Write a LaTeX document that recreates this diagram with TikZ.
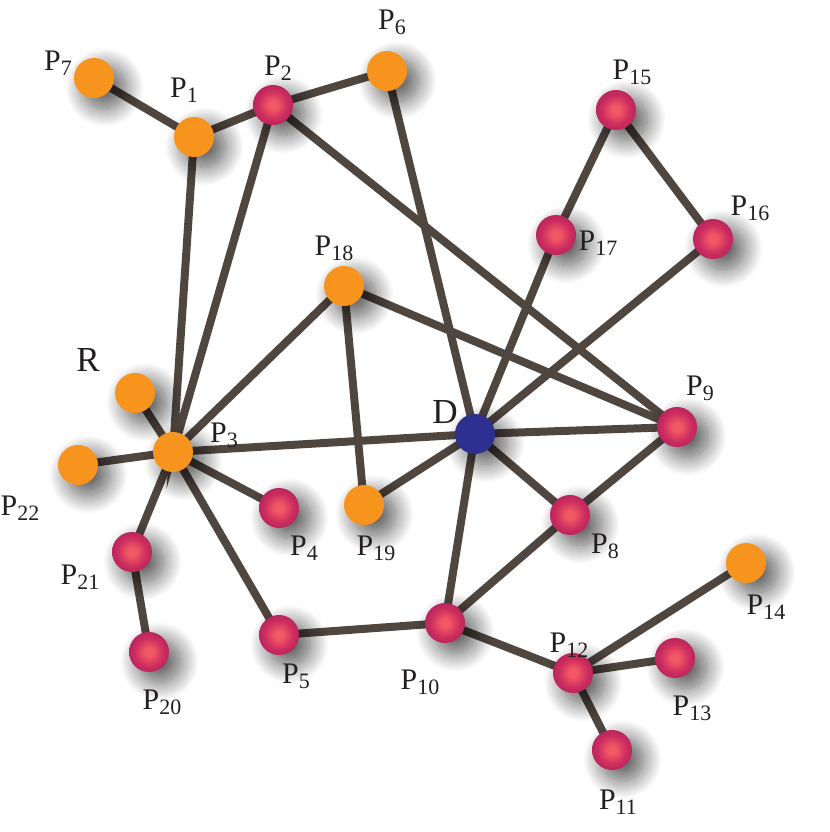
\documentclass[tikz,border=0pt]{standalone}
\usepackage{fontspec}
\setmainfont{Liberation Serif}
\usetikzlibrary{shadows.blur}

\definecolor{porange}{RGB}{247,148,30}
\definecolor{pblue}{RGB}{45,48,145}
\definecolor{ballhi}{RGB}{243,88,100}
\definecolor{ballmid}{RGB}{205,45,95}
\definecolor{ballrim}{RGB}{155,27,90}
\definecolor{balledge}{RGB}{130,20,85}
\definecolor{edgecol}{RGB}{80,70,64}
\definecolor{txtcol}{RGB}{35,31,32}

\pgfdeclareradialshading{pball}{\pgfpoint{0bp}{0bp}}{color(0bp)=(ballhi); color(5bp)=(ballhi); color(18bp)=(ballmid); color(36bp)=(ballrim); color(50bp)=(balledge); color(70bp)=(balledge)}
\pgfdeclarelayer{edges}
\pgfsetlayers{edges,main}

\newcommand{\plab}[1]{P\raisebox{-0.35ex}{\fontsize{12.5}{13}\selectfont #1}}

\begin{document}
\begin{tikzpicture}[x=0.02cm, y=-0.02cm,
  dot/.style={circle, inner sep=0pt, minimum size=0.8cm,
    blur shadow={shadow xshift=0.2cm, shadow yshift=-0.18cm, shadow blur radius=0.35cm,
      shadow blur steps=24, shadow opacity=65, shadow scale=1.05}},
  odot/.style={dot, fill=porange},
  mdot/.style={dot, shading=pball},
  bdot/.style={dot, fill=pblue},
  edge/.style={draw=edgecol, line width=0.16cm},
  lbl/.style={text=txtcol, inner sep=0pt, font=\fontsize{17}{20}\selectfont},
  big/.style={text=txtcol, inner sep=0pt, font=\fontsize{20}{24}\selectfont}]
  \useasboundingbox (0,0) rectangle (830,832);

  % top left group
  \node[odot] (P7) at (94,78) {};
  \node[odot] (P1) at (194,137) {};
  \node[mdot] (P2) at (273,105) {};
  \node[odot] (P6) at (387,71) {};
  \node[lbl] (l7) at (58,63) {\plab{7}};
  \node[lbl] (l1) at (184,90) {\plab{1}};
  \node[lbl] (l2) at (278,68) {\plab{2}};
  \node[lbl] (l6) at (392,22) {\plab{6}};

  % top right group
  \node[mdot] (P15) at (616,110) {};
  \node[mdot] (P16) at (713,239) {};
  \node[mdot] (P17) at (556,235) {};
  \node[lbl] (l15) at (632,72) {\plab{15}};
  \node[lbl] (l16) at (750,208) {\plab{16}};
  \node[lbl] (l17) at (598,243) {\plab{17}};

  % middle
  \node[odot] (P18) at (344,286) {};
  \node[odot] (R) at (135,393) {};
  \node[odot] (P3) at (173,452) {};
  \node[odot] (P22) at (78,465) {};
  \node[bdot] (D) at (475,434) {};
  \node[mdot] (P9) at (677,427) {};
  \node[mdot] (P4) at (279,508) {};
  \node[odot] (P19) at (364,505) {};
  \node[mdot] (P8) at (570,515) {};
  \node[lbl] (l18) at (334,248) {\plab{18}};
  \node[big] (lR) at (88,360) {R};
  \node[lbl] (l3) at (224,435) {\plab{3}};
  \node[lbl] (l22) at (20,508) {\plab{22}};
  \node[big] (lD) at (445,412) {D};
  \node[lbl] (l9) at (700,388) {\plab{9}};
  \node[lbl] (l4) at (304,548) {\plab{4}};
  \node[lbl] (l19) at (376,548) {\plab{19}};
  \node[lbl] (l8) at (605,546) {\plab{8}};

  % bottom
  \node[mdot] (P21) at (132,552) {};
  \node[mdot] (P20) at (149,652) {};
  \node[mdot] (P5) at (279,635) {};
  \node[mdot] (P10) at (445,623) {};
  \node[odot] (P14) at (746,563) {};
  \node[mdot] (P12) at (573,673) {};
  \node[mdot] (P13) at (675,658) {};
  \node[mdot] (P11) at (612,750) {};
  \node[lbl] (l21) at (80,577) {\plab{21}};
  \node[lbl] (l20) at (162,702) {\plab{20}};
  \node[lbl] (l5) at (296,676) {\plab{5}};
  \node[lbl] (l10) at (420,682) {\plab{10}};
  \node[lbl] (l14) at (766,607) {\plab{14}};
  \node[lbl] (l12) at (569,645) {\plab{12}};
  \node[lbl] (l13) at (692,708) {\plab{13}};
  \node[lbl] (l11) at (618,802) {\plab{11}};

  % links
  \begin{pgfonlayer}{edges}
    \draw[edge] (P7.center) -- (P1.center) -- (P2.center) -- (P6.center) -- (D.center);
    \draw[edge] (P1.center) -- (P3.center) -- (P2.center) -- (P9.center);
    \draw[edge] (P15.center) -- (P17.center) -- (D.center) -- (P16.center) -- (P15.center);
    \draw[edge] (P3.center) -- (P18.center) -- (P9.center);
    \draw[edge] (P18.center) -- (P19.center) -- (D.center);
    \draw[edge] (P3.center) -- (D.center) -- (P9.center) -- (P8.center) -- (D.center);
    \draw[edge] (D.center) -- (P10.center) -- (P8.center);
    \draw[edge] (R.center) -- (P3.center) -- (P22.center);
    \draw[edge] (P4.center) -- (P3.center) -- (P21.center) -- (P20.center);
    \draw[edge] (P3.center) -- (P5.center) -- (P10.center) -- (P12.center) -- (P14.center);
    \draw[edge] (P13.center) -- (P12.center) -- (P11.center);
  \end{pgfonlayer}
\end{tikzpicture}
\end{document}
